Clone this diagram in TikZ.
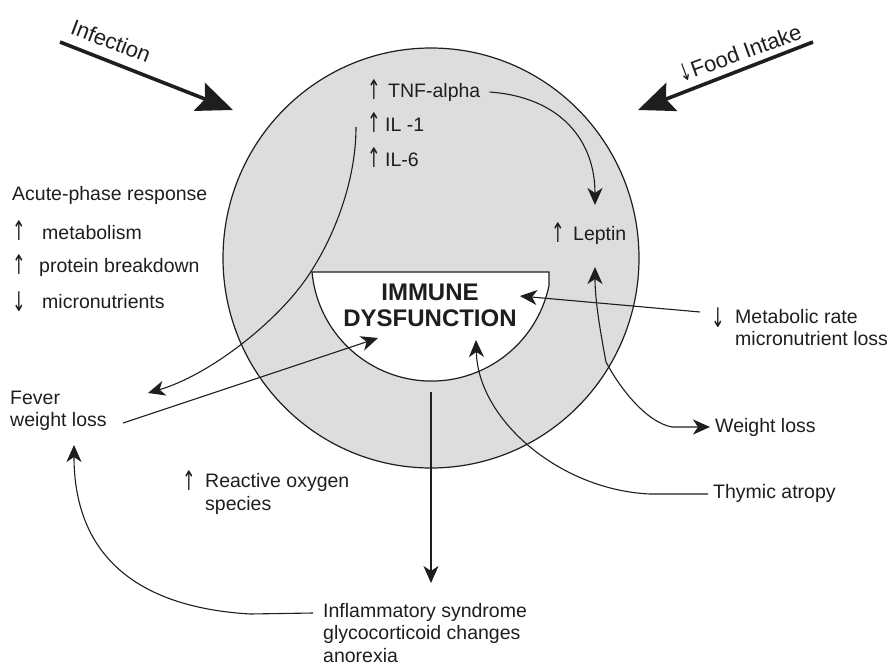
\documentclass[tikz,border=0pt]{standalone}
\usepackage{fontspec}
\setmainfont{Liberation Sans}
\newfontfamily\arrowfont{DejaVu Sans}
\usetikzlibrary{arrows.meta}
\definecolor{circgray}{RGB}{221,221,221}
\definecolor{ink}{RGB}{30,30,30}
\newcommand{\uparr}{\scalebox{0.6}[1]{\arrowfont ↑}}
\newcommand{\dnarr}{\scalebox{0.6}[1]{\arrowfont ↓}}
\begin{document}
\begin{tikzpicture}[x=1pt,y=-1pt,
  >={Stealth[length=17pt,width=15pt,inset=5pt]},
  lab/.style={font=\fontsize{19.5}{22.5}\selectfont, inner sep=0pt, text=ink, align=left, anchor=west},
  glyph/.style={font=\fontsize{27}{28}\selectfont, inner sep=0pt, text=ink},
  rotlab/.style={font=\fontsize{22}{24}\selectfont, inner sep=0pt, text=ink},
  conn/.style={draw=ink, line width=1.1pt, ->},
  big/.style={draw=ink, line width=3.6pt, -{Stealth[length=36pt,width=30pt,inset=6pt]}},
  outline/.style={draw=ink, line width=1.2pt}
]
\useasboundingbox (0,0) rectangle (894,666);

% circles
\draw[outline, fill=circgray] (431,258) ellipse[x radius=208, y radius=210];
\draw[outline, fill=white] (312,272) -- (549,272) -- (549,285.4)
   arc[start angle=11.7, end angle=174.7, radius=120] -- cycle;

% texts
\node[rotlab, rotate=-21] (infection) at (111,41) {Infection};
\node[rotlab, rotate=20] (food) at (740,52) {{\fontsize{24}{24}\selectfont\dnarr}Food Intake};

\node[glyph] (tnfa) at (374,90) {\uparr};
\node[lab] (tnf) at (388,92) {TNF-alpha};
\node[glyph] (il1a) at (374,123) {\uparr};
\node[lab] (il1) at (385,125) {IL -1};
\node[glyph] (il6a) at (374,158) {\uparr};
\node[lab] (il6) at (385,160) {IL-6};

\node[lab] (acute) at (12,195) {Acute-phase response};
\node[glyph] (meta) at (19,231) {\uparr};
\node[lab] (met) at (42,233) {metabolism};
\node[glyph] (prota) at (19,265) {\uparr};
\node[lab] (prot) at (39,267) {protein breakdown};
\node[glyph] (micra) at (19,302) {\dnarr};
\node[lab] (micr) at (42,302) {micronutrients};

\node[glyph] (leptina) at (558,233) {\uparr};
\node[lab] (leptin) at (573,235) {Leptin};

\node[font=\fontsize{24}{26}\selectfont\bfseries, text=ink, align=center, inner sep=0pt] (immune) at (430,305) {IMMUNE\\DYSFUNCTION};

\node[glyph] (metra) at (718,318) {\dnarr};
\node[lab] (metr) at (735,327.5) {Metabolic rate\\micronutrient loss};
\node[lab] (fever) at (10,411) {Fever\\weight loss};
\node[lab] (wloss) at (715,427) {Weight loss};
\node[glyph] (rosa) at (189,481) {\uparr};
\node[lab] (ros) at (205,494) {Reactive oxygen\\species};
\node[lab] (thym) at (713,493) {Thymic atropy};
\node[lab] (infl) at (323,633) {Inflammatory syndrome\\glycocorticoid changes\\anorexia};

% connector ends
\coordinate (infS) at (60,42);   \coordinate (infT) at (233,110);
\coordinate (foodS) at (813,42); \coordinate (foodT) at (638,110);
\coordinate (leptinTop) at (595,205);
\coordinate (leptinBot) at (595,267);
\coordinate (il1S) at (356,127);
\coordinate (feverT) at (148,393);
\coordinate (feverS) at (123,423);
\coordinate (immL) at (378,338);
\coordinate (metS) at (700,312);
\coordinate (immR) at (520,296);
\coordinate (wlT) at (710,427);
\coordinate (thyS) at (708,494);
\coordinate (immB) at (476,340);
\coordinate (immS) at (431,392);
\coordinate (inflT) at (431,583);
\coordinate (inflS) at (313,613);
\coordinate (feverB) at (74,445);

% connectors
\draw[big] (infS) -- (infT);
\draw[big] (foodS) -- (foodT);
\draw[conn] ([xshift=9pt]tnf.east) .. controls (560,97) and (595,140) .. (leptinTop);
\draw[conn] (il1S) .. controls (356,180) and (335,235) .. (310,273)
   .. controls (280,320) and (210,375) .. (feverT);
\draw[conn] (feverS) -- (immL);
\draw[conn] (metS) -- (immR);
\draw[conn, <->] (wlT) -- (672,427) .. controls (645,422) and (618,385) .. (606,362)
   .. controls (600,330) and (595,300) .. (leptinBot);
\draw[conn] (thyS) -- (650,494) .. controls (560,490) and (478,420) .. (immB);
\draw[conn] (immS) -- (inflT);
\draw[conn] (inflS) -- (250,614) .. controls (100,605) and (74,520) .. (feverB);
\end{tikzpicture}
\end{document}
